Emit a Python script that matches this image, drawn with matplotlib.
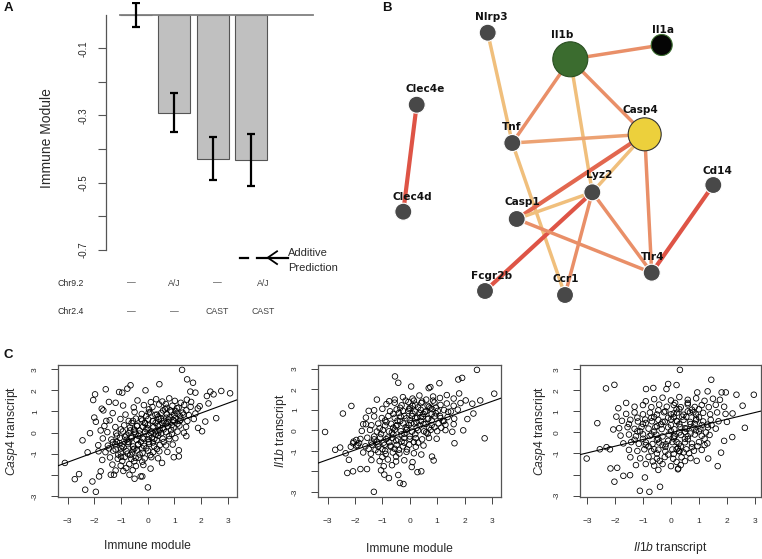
import matplotlib
matplotlib.use("Agg")
import matplotlib.pyplot as plt
from matplotlib.patches import Circle
import numpy as np

plt.rcParams['font.family'] = ['Liberation Sans', 'DejaVu Sans']
plt.rcParams['mathtext.fontset'] = 'custom'
plt.rcParams['mathtext.rm'] = 'Liberation Sans'
plt.rcParams['mathtext.it'] = 'Liberation Sans:italic'

W, H = 762, 559

# ---------------- panel A data ----------------
bar_pos = [0.7, 1.9, 3.1, 4.3]
bar_vals = [0.0, -0.293, -0.428, -0.433]
err_low = [-0.036, -0.350, -0.493, -0.509]
err_high = [0.036, -0.233, -0.364, -0.354]
a_yticks = [-0.7, -0.6, -0.5, -0.4, -0.3, -0.2, -0.1]
a_yticklabels = ['-0.7', '', '-0.5', '', '-0.3', '', '-0.1']
geno_pos = [0.57, 1.89, 3.24, 4.68]
chr92 = ['—', 'A/J', '—', 'A/J']
chr24 = ['—', '—', 'CAST', 'CAST']

# ---------------- panel B data ----------------
nodes = ['Nlrp3', 'Il1b', 'Il1a', 'Clec4e', 'Clec4d', 'Casp4', 'Tnf',
         'Lyz2', 'Cd14', 'Casp1', 'Tlr4', 'Fcgr2b', 'Ccr1']
node_x = [107.7, 190.3, 281.7, 36.7, 23.3, 264.7, 132.3, 212.3, 333.3, 136.7, 271.7, 105.0, 185.0]
node_y = [32.7, 59.3, 45.0, 104.7, 211.7, 134.3, 143.0, 192.3, 185.0, 219.0, 272.7, 291.0, 295.0]
label_x = [111.7, 181.7, 282.7, 45.0, 32.3, 260.7, 131.7, 219.3, 337.3, 142.3, 272.3, 111.7, 185.7]
label_y = [16.7, 35.0, 30.0, 89.3, 196.7, 110.0, 126.7, 175.0, 170.7, 202.3, 257.3, 276.0, 279.3]
node_r = {'Il1b': 17.5, 'Casp4': 16.5, 'Il1a': 10.5}
node_fc = {'Il1b': '#3b6c2f', 'Casp4': '#ecd03c', 'Il1a': '#050505'}
node_ec = {'Il1b': '#2a4f22', 'Casp4': '#333333', 'Il1a': '#3b6c2f'}
edges = [
    ('Clec4e', 'Clec4d', 'red'),
    ('Nlrp3', 'Tnf', 'light'),
    ('Il1b', 'Il1a', 'orange'),
    ('Il1b', 'Tnf', 'orange'),
    ('Il1b', 'Lyz2', 'light'),
    ('Il1b', 'Casp4', 'orange'),
    ('Tnf', 'Casp4', 'orange_light'),
    ('Tnf', 'Ccr1', 'light'),
    ('Casp4', 'Casp1', 'red_orange'),
    ('Casp4', 'Lyz2', 'light'),
    ('Casp4', 'Tlr4', 'orange'),
    ('Lyz2', 'Casp1', 'light'),
    ('Lyz2', 'Fcgr2b', 'red'),
    ('Lyz2', 'Ccr1', 'orange'),
    ('Lyz2', 'Tlr4', 'orange'),
    ('Casp1', 'Tlr4', 'orange'),
    ('Cd14', 'Tlr4', 'red'),
]
edge_colors = {'red': '#de5446', 'red_orange': '#e2674f', 'orange': '#e98f68',
               'orange_light': '#eca273', 'light': '#f0bf7c'}

# ---------------- panel C data ----------------
# Casp4 transcript vs Immune module
casp4_imm = [
    (-3.10, -1.44), (-2.73, -2.21), (-2.57, -1.97), (-2.34, -2.71), (-1.94, -2.81), (-2.07, -2.32),
    (-2.44, -0.37), (-2.25, -0.94), (-1.84, -0.89), (-1.76, 0.10), (-2.16, -0.03), (-1.97, 1.81),
    (-2.04, 1.54), (-1.57, 2.05), (-1.72, 1.13), (-1.66, 1.05), (-2.00, 0.71), (-1.94, 0.51),
    (-0.95, 1.89), (-1.20, 1.41), (-0.64, 2.24), (-0.76, 2.08), (-1.07, 1.92), (0.44, 2.29),
    (-0.08, 2.00), (1.29, 2.97), (1.48, 2.52), (1.70, 2.36), (1.60, 1.94), (1.79, 1.89),
    (2.35, 1.94), (2.47, 1.81), (2.76, 1.97), (3.09, 1.86), (2.22, 1.73), (2.28, 1.38),
    (1.95, 1.25), (2.57, 0.68), (2.16, 0.52), (2.04, 0.06), (1.89, 0.22), (1.45, -0.17),
    (1.17, -0.84), (0.98, -1.17), (1.17, -1.13), (0.01, -2.60), (-0.26, -2.08), (-0.20, -2.08),
    (-0.49, -2.19), (-0.68, -2.00), (-1.26, -2.00), (-1.38, -2.00), (-1.82, -2.08), (-1.76, -1.84),
    (0.11, -1.71), (0.54, -1.44), (-1.85, -0.60), (-1.70, -1.30), (-1.55, 0.55), (-1.45, 1.45),
    (0.32, 1.58), (0.55, 1.47), (0.81, 1.62), (1.02, 1.50), (1.24, 1.41), (1.47, 1.56),
    (1.63, 1.45), (-0.38, 1.52), (0.12, 1.44), (0.68, 1.35),
    (-0.92, 1.28), (-0.52, 1.19), (-0.14, 1.30), (0.18, 1.21), (0.43, 1.33), (0.71, 1.17),
    (0.93, 1.27), (1.16, 1.18), (1.37, 1.31), (1.61, 1.22), (1.88, 1.14), (0.05, 1.10),
    (0.58, 1.05), (1.05, 1.02),
    (-1.31, 0.92), (-0.83, 0.85), (-0.49, 0.97), (-0.22, 0.88), (0.04, 0.95), (0.29, 0.84),
    (0.51, 0.93), (0.72, 0.86), (0.89, 0.98), (1.12, 0.89), (1.31, 0.94), (1.54, 0.83),
    (1.79, 0.90), (-0.05, 0.78), (0.40, 0.75), (0.82, 0.72), (1.22, 0.77),
    (-1.42, 0.58), (-1.02, 0.64), (-0.71, 0.55), (-0.44, 0.66), (-0.21, 0.57), (0.02, 0.63),
    (0.19, 0.54), (0.41, 0.65), (0.61, 0.56), (0.79, 0.62), (1.01, 0.53), (1.24, 0.61),
    (1.49, 0.55), (1.73, 0.64), (-0.60, 0.45), (-0.10, 0.44), (0.30, 0.46), (0.70, 0.43),
    (1.12, 0.42),
    (-1.62, 0.31), (-1.21, 0.26), (-0.88, 0.34), (-0.66, 0.24), (-0.39, 0.33), (-0.18, 0.27),
    (0.01, 0.35), (0.22, 0.25), (0.38, 0.32), (0.56, 0.22), (0.76, 0.30), (0.97, 0.24),
    (1.19, 0.33), (1.44, 0.27), (-1.00, 0.15), (-0.50, 0.14), (-0.05, 0.16), (0.45, 0.13),
    (0.88, 0.12),
    (-1.51, 0.02), (-1.18, -0.04), (-0.93, 0.05), (-0.71, -0.03), (-0.49, 0.04), (-0.31, -0.05),
    (-0.09, 0.03), (0.12, -0.02), (0.29, 0.06), (0.51, -0.04), (0.69, 0.02), (0.91, -0.06),
    (1.12, 0.04), (1.36, -0.01), (-0.80, -0.14), (-0.35, -0.16), (0.05, -0.13), (0.40, -0.15),
    (0.80, -0.17),
    (-1.68, -0.28), (-1.36, -0.33), (-1.04, -0.25), (-0.79, -0.34), (-0.61, -0.27), (-0.41, -0.35),
    (-0.19, -0.26), (0.01, -0.32), (0.16, -0.24), (0.34, -0.36), (0.56, -0.29), (0.81, -0.31),
    (1.04, -0.27), (-1.15, -0.45), (-0.70, -0.46), (-0.25, -0.44), (0.20, -0.47), (0.60, -0.45),
    (-1.49, -0.62), (-1.21, -0.56), (-0.96, -0.64), (-0.74, -0.55), (-0.54, -0.66), (-0.36, -0.58),
    (-0.14, -0.63), (0.06, -0.54), (0.24, -0.65), (0.46, -0.59), (0.69, -0.61), (0.94, -0.57),
    (-1.00, -0.76), (-0.50, -0.77), (-0.05, -0.75), (0.35, -0.78),
    (-1.58, -0.93), (-1.29, -0.86), (-1.01, -0.95), (-0.79, -0.88), (-0.58, -0.94), (-0.41, -0.85),
    (-0.19, -0.96), (0.02, -0.87), (0.21, -0.93), (0.44, -0.89), (0.74, -0.92), (-1.10, -1.05),
    (-0.65, -1.06), (-0.30, -1.04), (0.10, -1.07),
    (-1.41, -1.18), (-1.12, -1.24), (-0.86, -1.16), (-0.61, -1.25), (-0.34, -1.19), (-0.11, -1.23),
    (0.14, -1.17), (0.39, -1.22), (-0.95, -1.35), (-0.50, -1.36), (-0.20, -1.38),
    (-1.32, -1.52), (-1.01, -1.57), (-0.69, -1.50), (-0.44, -1.59), (-0.16, -1.54), (-0.80, -1.68),
    (-0.91, -1.82), (-0.56, -1.78), (-1.20, -1.80),
]
casp4_imm_dense = [
    (-0.60, -0.20), (-0.45, -0.05), (-0.30, 0.10), (-0.15, -0.30), (0.00, 0.20), (0.15, 0.05),
    (0.30, -0.10), (0.45, 0.35), (0.60, 0.15), (0.75, 0.50), (0.90, 0.35), (1.05, 0.70),
    (1.20, 0.55), (1.35, 0.85), (-0.75, -0.45), (-0.90, -0.70), (-1.05, -0.50), (-0.55, -0.80),
    (-0.35, -0.55), (-0.20, -0.75), (0.05, -0.45), (0.25, -0.30), (0.40, 0.00), (0.55, 0.45),
    (0.70, 0.70), (0.85, 1.05), (1.00, 0.85), (0.20, 0.55), (-0.10, 0.45), (-0.40, 0.30),
    (-0.65, 0.10), (-0.85, -0.20), (-1.20, -0.80), (-1.00, -1.15), (-0.75, -1.00), (-0.45, -1.20),
    (0.35, 0.85), (0.65, 1.10), (1.10, 1.15), (1.45, 1.05), (0.95, 0.60), (0.50, 0.65),
    (-0.25, 0.65), (0.10, 0.95), (-0.55, 0.55), (-1.30, -0.45), (-1.45, -0.75), (-1.15, -0.15),
]
# Il1b transcript vs Immune module
il1b_imm = [
    (-3.09, -0.08), (-2.72, -0.95), (-2.54, -0.84), (-2.34, -1.12), (-2.44, 0.82), (-2.13, 1.19),
    (-2.22, -1.44), (-2.28, -2.08), (-2.07, -2.00), (-1.80, -1.89), (-1.56, -1.89), (-1.31, -3.00),
    (-1.05, -1.95), (-0.76, -2.33), (-0.93, -2.16), (-0.42, -2.18), (-0.36, -2.57), (-0.23, -2.62),
    (-0.54, 2.63), (-0.42, 2.32), (0.05, 2.14), (-0.75, 1.42), (0.69, 2.06), (0.75, 2.11),
    (1.08, 2.30), (1.77, 2.48), (1.91, 2.56), (2.45, 2.95), (3.08, 1.79), (2.57, 1.46),
    (2.28, 1.30), (2.04, 1.46), (2.32, 0.82), (2.73, -0.39), (1.95, 0.00), (1.63, -0.63),
    (0.87, -1.47), (0.81, -1.28), (0.42, -2.00), (0.28, -2.04), (0.07, -1.79), (-1.95, -0.47),
    (-2.07, -0.63), (-2.05, -0.55), (-1.95, -0.75), (-1.85, -0.62), (-2.15, -0.80), (-1.60, 0.30),
    (-1.50, 0.95), (2.10, 0.55), (1.80, 1.80), (-1.20, 1.50),
    (-0.25, 1.62), (0.10, 1.55), (0.35, 1.70), (0.60, 1.50), (0.85, 1.65), (1.10, 1.58),
    (1.35, 1.72), (1.60, 1.55), (-0.55, 1.50),
    (-0.85, 1.28), (-0.55, 1.35), (-0.30, 1.22), (-0.05, 1.38), (0.20, 1.25), (0.42, 1.33),
    (0.65, 1.20), (0.90, 1.36), (1.12, 1.24), (1.35, 1.31), (1.60, 1.20), (1.85, 1.33),
    (0.30, 1.12), (0.00, 1.10), (0.75, 1.08),
    (-1.30, 0.98), (-1.00, 1.05), (-0.72, 0.93), (-0.48, 1.02), (-0.25, 0.95), (-0.02, 1.04),
    (0.20, 0.92), (0.40, 1.00), (0.60, 0.93), (0.82, 1.03), (1.02, 0.95), (1.25, 0.99),
    (1.50, 0.92), (1.75, 1.01), (-0.40, 0.85), (0.10, 0.82), (0.50, 0.80), (0.95, 0.83),
    (-1.60, 0.62), (-1.30, 0.68), (-1.02, 0.60), (-0.78, 0.70), (-0.55, 0.61), (-0.33, 0.67),
    (-0.12, 0.59), (0.08, 0.69), (0.27, 0.61), (0.47, 0.66), (0.68, 0.58), (0.90, 0.68),
    (1.12, 0.60), (1.38, 0.65), (1.62, 0.57), (-0.90, 0.48), (-0.45, 0.47), (0.00, 0.50),
    (0.40, 0.46), (0.80, 0.49), (1.25, 0.45),
    (-1.70, 0.30), (-1.40, 0.25), (-1.15, 0.33), (-0.90, 0.24), (-0.68, 0.32), (-0.46, 0.26),
    (-0.24, 0.34), (-0.04, 0.25), (0.16, 0.33), (0.36, 0.24), (0.58, 0.31), (0.80, 0.26),
    (1.05, 0.34), (1.30, 0.27), (1.60, 0.30), (-0.60, 0.13), (-0.15, 0.15), (0.25, 0.12),
    (0.70, 0.14), (1.15, 0.13),
    (-1.75, -0.03), (-1.45, 0.02), (-1.20, -0.06), (-0.98, 0.01), (-0.76, -0.05), (-0.55, 0.03),
    (-0.33, -0.04), (-0.12, 0.02), (0.08, -0.06), (0.30, 0.00), (0.52, -0.05), (0.76, 0.02),
    (1.00, -0.04), (1.30, 0.01), (1.55, -0.07), (-1.05, -0.18), (-0.60, -0.20), (-0.20, -0.17),
    (0.20, -0.19), (0.65, -0.16),
    (-1.80, -0.42), (-1.55, -0.36), (-1.30, -0.44), (-1.08, -0.35), (-0.86, -0.43), (-0.64, -0.37),
    (-0.42, -0.45), (-0.20, -0.36), (0.00, -0.42), (0.22, -0.38), (0.45, -0.44), (0.70, -0.37),
    (0.98, -0.41), (-1.20, -0.56), (-0.75, -0.58), (-0.30, -0.55), (0.15, -0.57),
    (-1.90, -0.72), (-1.62, -0.78), (-1.38, -0.70), (-1.15, -0.79), (-0.92, -0.71), (-0.70, -0.80),
    (-0.48, -0.72), (-0.25, -0.78), (-0.02, -0.70), (0.22, -0.80), (0.50, -0.74), (-1.50, -0.90),
    (-1.00, -0.92), (-0.55, -0.90), (-0.10, -0.93),
    (-1.70, -1.08), (-1.42, -1.14), (-1.15, -1.06), (-0.88, -1.15), (-0.62, -1.08), (-0.38, -1.13),
    (-0.12, -1.05), (0.15, -1.12), (0.42, -1.18), (-1.00, -1.30), (-0.50, -1.28),
    (-1.40, -1.45), (-1.10, -1.50), (-0.80, -1.42), (-0.50, -1.52), (-0.20, -1.46), (0.10, -1.55),
    (-0.65, -1.70), (-0.95, -1.75),
]
il1b_imm_dense = [
    (-0.50, 0.20), (-0.35, 0.45), (-0.20, 0.70), (-0.05, 0.95), (0.10, 1.20), (0.25, 0.40),
    (0.40, 0.65), (0.55, 0.90), (0.70, 1.15), (-0.65, -0.10), (-0.80, -0.35), (-0.95, -0.60),
    (-0.50, -0.50), (-0.30, -0.20), (-0.10, 0.10), (0.05, 0.35), (0.20, 0.60), (0.35, 0.85),
    (0.50, 0.30), (0.65, 0.55), (0.80, 0.80), (0.95, 1.10), (1.10, 0.70), (0.15, 1.45),
    (0.45, 1.40), (-0.35, 1.10), (-0.60, 0.80), (-0.85, 0.40), (-1.10, 0.10), (-1.30, -0.30),
    (-1.15, -0.65), (-0.70, -0.75), (-0.40, -0.95), (0.00, -0.30), (0.30, -0.60), (0.60, -0.10),
    (0.90, 0.15), (1.20, 0.45), (1.40, 0.90), (-0.20, -0.60), (-0.90, -1.00), (-0.15, 1.45),
    (0.85, 1.45), (-1.40, -0.60), (-1.25, -0.95),
]
# Casp4 transcript vs Il1b transcript
casp4_il1b = [
    (-3.01, -1.24), (-2.63, 0.44), (-2.32, 2.09), (-2.02, 2.26), (-1.88, 1.15), (-2.54, -0.80),
    (-2.16, -1.71), (-1.92, -1.68), (-2.02, -2.34), (-2.18, -0.80), (-2.06, 0.14), (-1.70, -2.06),
    (-1.46, -2.03), (-1.11, -2.77), (-0.77, -2.82), (-0.39, -2.58), (-0.93, -2.14), (0.32, 2.97),
    (0.20, 2.25), (-0.10, 2.30), (-0.16, 2.06), (-0.89, 2.06), (-0.63, 2.11), (1.44, 2.50),
    (0.94, 1.90), (1.31, 1.95), (1.81, 1.90), (1.96, 1.90), (2.34, 1.79), (2.96, 1.79),
    (2.56, 1.27), (2.64, 0.22), (2.19, -0.22), (1.79, -0.96), (1.67, -1.60), (0.92, -1.35),
    (1.33, -1.24), (0.26, -1.71), (-2.30, -0.70), (-1.95, 0.75), (2.20, 0.90), (2.00, 0.50),
    (-1.60, 1.40), (1.90, -0.40),
    (-0.60, 1.58), (-0.30, 1.65), (0.00, 1.52), (0.30, 1.68), (0.60, 1.55), (0.90, 1.62),
    (1.20, 1.50), (1.50, 1.60), (1.75, 1.55), (-0.90, 1.48),
    (-1.30, 1.22), (-1.00, 1.30), (-0.70, 1.20), (-0.42, 1.32), (-0.15, 1.22), (0.10, 1.30),
    (0.35, 1.20), (0.60, 1.33), (0.85, 1.21), (1.10, 1.30), (1.35, 1.20), (1.60, 1.31),
    (1.90, 1.22), (0.20, 1.10), (0.75, 1.08),
    (-1.60, 0.88), (-1.30, 0.95), (-1.00, 0.86), (-0.75, 0.94), (-0.50, 0.85), (-0.25, 0.96),
    (0.00, 0.86), (0.22, 0.94), (0.45, 0.84), (0.68, 0.95), (0.90, 0.85), (1.15, 0.93),
    (1.40, 0.86), (1.65, 0.95), (1.95, 0.88), (-0.60, 0.73), (0.10, 0.72), (0.55, 0.74),
    (1.00, 0.72),
    (-1.75, 0.55), (-1.45, 0.60), (-1.18, 0.52), (-0.92, 0.61), (-0.68, 0.53), (-0.45, 0.60),
    (-0.22, 0.51), (0.00, 0.62), (0.22, 0.52), (0.45, 0.60), (0.68, 0.50), (0.90, 0.58),
    (1.15, 0.52), (1.42, 0.60), (1.70, 0.53), (-1.00, 0.40), (-0.35, 0.38), (0.30, 0.39),
    (0.85, 0.41), (1.30, 0.37),
    (-1.85, 0.20), (-1.55, 0.25), (-1.30, 0.17), (-1.05, 0.26), (-0.80, 0.18), (-0.56, 0.25),
    (-0.33, 0.16), (-0.10, 0.24), (0.12, 0.15), (0.34, 0.26), (0.56, 0.18), (0.80, 0.23),
    (1.05, 0.16), (1.32, 0.24), (1.60, 0.18), (-1.20, 0.05), (-0.60, 0.04), (0.00, 0.06),
    (0.50, 0.03), (1.00, 0.05),
    (-1.80, -0.15), (-1.50, -0.10), (-1.25, -0.18), (-1.00, -0.09), (-0.76, -0.17), (-0.52, -0.11),
    (-0.30, -0.19), (-0.08, -0.10), (0.14, -0.17), (0.36, -0.12), (0.60, -0.18), (0.85, -0.10),
    (1.10, -0.16), (1.38, -0.12), (-1.00, -0.30), (-0.45, -0.31), (0.10, -0.29), (0.60, -0.32),
    (1.20, -0.30),
    (-1.70, -0.52), (-1.42, -0.46), (-1.15, -0.54), (-0.90, -0.47), (-0.66, -0.55), (-0.42, -0.48),
    (-0.18, -0.56), (0.05, -0.46), (0.28, -0.54), (0.50, -0.47), (0.75, -0.53), (1.00, -0.46),
    (1.30, -0.52), (-0.80, -0.66), (-0.20, -0.68), (0.35, -0.67), (0.95, -0.65),
    (-1.50, -0.83), (-1.20, -0.88), (-0.95, -0.80), (-0.70, -0.89), (-0.45, -0.82), (-0.20, -0.90),
    (0.05, -0.81), (0.30, -0.88), (0.55, -0.80), (0.82, -0.87), (1.10, -0.83), (-0.50, -1.00),
    (0.10, -1.02), (0.65, -0.99),
    (-1.45, -1.18), (-1.10, -1.23), (-0.80, -1.16), (-0.50, -1.24), (-0.22, -1.17), (0.08, -1.25),
    (0.38, -1.18), (0.70, -1.22), (-0.65, -1.38), (0.20, -1.40), (0.50, -1.36),
    (-1.25, -1.55), (-0.90, -1.50), (-0.60, -1.58), (-0.30, -1.50), (0.00, -1.60), (0.35, -1.55),
    (-0.45, -1.78), (0.25, -1.75),
]
casp4_il1b_dense = [
    (-0.50, 0.30), (-0.30, 0.50), (-0.10, 0.70), (0.10, 0.90), (0.30, 1.10), (0.50, 0.20),
    (0.70, 0.40), (0.90, 0.65), (-0.70, -0.10), (-0.50, -0.35), (-0.30, -0.60), (-0.10, -0.40),
    (0.10, -0.20), (0.30, 0.00), (0.50, -0.30), (0.70, -0.05), (0.90, 0.10), (1.10, 0.35),
    (-0.90, 0.45), (-0.70, 0.70), (-1.10, 0.05), (-1.30, -0.35), (-0.90, -0.60), (-0.60, -0.80),
    (0.00, 0.35), (0.20, 0.55), (0.40, 0.75), (0.60, 1.00), (0.80, 0.95), (1.00, 1.10),
    (-0.20, 1.00), (-0.45, 1.05), (0.25, -0.75), (0.45, -0.95), (0.75, -0.70), (1.25, 0.00),
    (1.45, 0.35), (-1.50, 0.40), (-1.20, 0.70), (0.20, -0.45), (0.15, 1.40), (0.60, 1.40),
    (-0.10, -1.05), (-0.40, -1.35), (1.20, -0.60), (0.30, -0.90), (0.20, -0.80),
]
# fitted lines (slope, intercept)
casp4_imm_fit = (0.466, -0.01)
il1b_imm_fit = (0.475, -0.01)
casp4_il1b_fit = (0.32, -0.015)


def px_axes(fig, x0, y0, x1, y1):
    return fig.add_axes([x0 / W, 1 - y1 / H, (x1 - x0) / W, (y1 - y0) / H])


fig = plt.figure(figsize=(W / 100, H / 100), dpi=100)
fig.patch.set_facecolor('white')

txt = '#2a2a2a'

# ---------------- panel A ----------------
axA = px_axes(fig, 106, 2, 330, 258)
axA.set_xlim(-0.241, 6.78)
axA.set_ylim(-0.724, 0.0376)
axA.bar(bar_pos, bar_vals, width=1.0, color='#c0c0c0', edgecolor='#555555', linewidth=0.8, zorder=2)
vals = np.array(bar_vals)
yerr = np.vstack([vals - np.array(err_low), np.array(err_high) - vals])
axA.errorbar(bar_pos, vals, yerr=yerr, fmt='none', ecolor='black', elinewidth=1.6,
             capsize=3.2, capthick=1.6, zorder=4)
axA.plot([0.2, 6.24], [0, 0], color='#808080', lw=1.3, zorder=3)
for s in ['top', 'right', 'bottom']:
    axA.spines[s].set_visible(False)
axA.spines['left'].set_bounds(-0.7, 0)
axA.spines['left'].set_color('#555555')
axA.spines['left'].set_linewidth(0.9)
axA.set_xticks([])
axA.set_yticks(a_yticks)
axA.set_yticklabels(a_yticklabels)
axA.tick_params(axis='y', length=5.5, width=0.8, color='#555555', pad=7,
                labelsize=7, labelcolor=txt, labelrotation=90)
for lab in axA.get_yticklabels():
    lab.set_va('center')
axA.set_ylabel('Immune Module', fontsize=10, color=txt, va='center')
axA.yaxis.set_label_coords(-59 / 224, 0.47)

# additive prediction legend
axA.plot([3.96, 4.21], [-0.723, -0.723], color='black', lw=1.6, clip_on=False)
axA.plot([4.48, 5.46], [-0.723, -0.723], color='black', lw=1.6, clip_on=False)
axA.plot([5.12, 4.83, 5.12], [-0.704, -0.723, -0.742], color='black', lw=1.3, clip_on=False)
axA.text(5.47, -0.708, 'Additive', fontsize=8, color=txt, va='center', ha='left', clip_on=False)
axA.text(5.47, -0.753, 'Prediction', fontsize=8, color=txt, va='center', ha='left', clip_on=False)

# genotype rows
rowA_y = 1 - 283 / H
rowB_y = 1 - 312 / H
fig.text(57 / W, rowA_y, 'Chr9.2', fontsize=6.3, color=txt, va='center', ha='left')
fig.text(58 / W, rowB_y, 'Chr2.4', fontsize=6.3, color=txt, va='center', ha='left')
for xp, a, b in zip(geno_pos, chr92, chr24):
    xf = (106 + (xp + 0.241) * 31.9) / W
    fig.text(xf, rowA_y, a, fontsize=6.3, color='#444444', va='center', ha='center')
    fig.text(xf, rowB_y, b, fontsize=6.3, color='#444444', va='center', ha='center')

# ---------------- panel B ----------------
axB = px_axes(fig, 380, 0, 762, 320)
axB.set_xlim(0, 382)
axB.set_ylim(320, 0)
axB.axis('off')
idx = {n: i for i, n in enumerate(nodes)}
for a, b, c in edges:
    i, j = idx[a], idx[b]
    lw = 3.0 if c in ('red', 'red_orange') else 2.5
    axB.plot([node_x[i], node_x[j]], [node_y[i], node_y[j]], color=edge_colors[c],
             lw=lw, solid_capstyle='butt', zorder=1)
for n, x, y, lx, ly in zip(nodes, node_x, node_y, label_x, label_y):
    r = node_r.get(n, 8.5)
    fc = node_fc.get(n, '#484848')
    ec = node_ec.get(n, '#ffffff')
    axB.add_patch(Circle((x, y), r, facecolor=fc, edgecolor=ec, lw=0.8, zorder=3))
    axB.text(lx, ly, n, fontsize=7.6, fontweight='bold', family='DejaVu Sans',
             color='#111111', ha='center', va='center', zorder=4)


# ---------------- panel C ----------------
def scatter_panel(box, pts, fit, xlabel, ylabel, ylab_dx, xlab_y):
    ax = px_axes(fig, *box)
    p = np.array(pts)
    ax.scatter(p[:, 0], p[:, 1], s=16, facecolors='none', edgecolors='black', linewidths=0.6, zorder=2)
    ax.margins(0.04)
    m, b = fit
    ax.axline((0, b), slope=m, color='black', lw=0.8, zorder=3)
    ax.set_xticks([-3, -2, -1, 0, 1, 2, 3])
    ax.set_yticks([-3, -2, -1, 0, 1, 2, 3])
    ax.set_yticklabels(['-3', '', '-1', '0', '1', '2', '3'])
    ax.tick_params(length=5, width=0.7, color='#444444', labelsize=6, labelcolor=txt)
    ax.tick_params(axis='x', pad=10)
    ax.tick_params(axis='y', pad=9, labelrotation=90)
    for lab in ax.get_yticklabels():
        lab.set_va('center')
    for s in ax.spines.values():
        s.set_color('#555555')
        s.set_linewidth(0.9)
    h = box[3] - box[1]
    wdt = box[2] - box[0]
    ax.set_xlabel(xlabel, fontsize=8.7, color=txt, va='center')
    ax.xaxis.set_label_coords(0.5, -(xlab_y - box[3]) / h)
    ax.set_ylabel(ylabel, fontsize=8.7, color=txt, va='center')
    ax.yaxis.set_label_coords(-ylab_dx / wdt, 0.5)
    return ax


scatter_panel((58.3, 365, 236.7, 496.7), casp4_imm + casp4_imm_dense, casp4_imm_fit,
              'Immune module', r'$\it{Casp4}$ transcript', 46, 546)
scatter_panel((318.3, 365, 501, 496.7), il1b_imm + il1b_imm_dense, il1b_imm_fit,
              'Immune module', r'$\it{Il1b}$ transcript', 37, 549)
scatter_panel((580, 365, 760.5, 496.7), casp4_il1b + casp4_il1b_dense, casp4_il1b_fit,
              r'$\it{Il1b}$ transcript', r'$\it{Casp4}$ transcript', 40, 548)

# panel letters
for letter, x, y in [('A', 8.5, 8), ('B', 386.5, 8), ('C', 8.5, 355)]:
    fig.text(x / W, 1 - y / H, letter, fontsize=9.5, fontweight='bold', color='#111111',
             ha='center', va='center')

fig.savefig('out.png', dpi=100, facecolor='white')
